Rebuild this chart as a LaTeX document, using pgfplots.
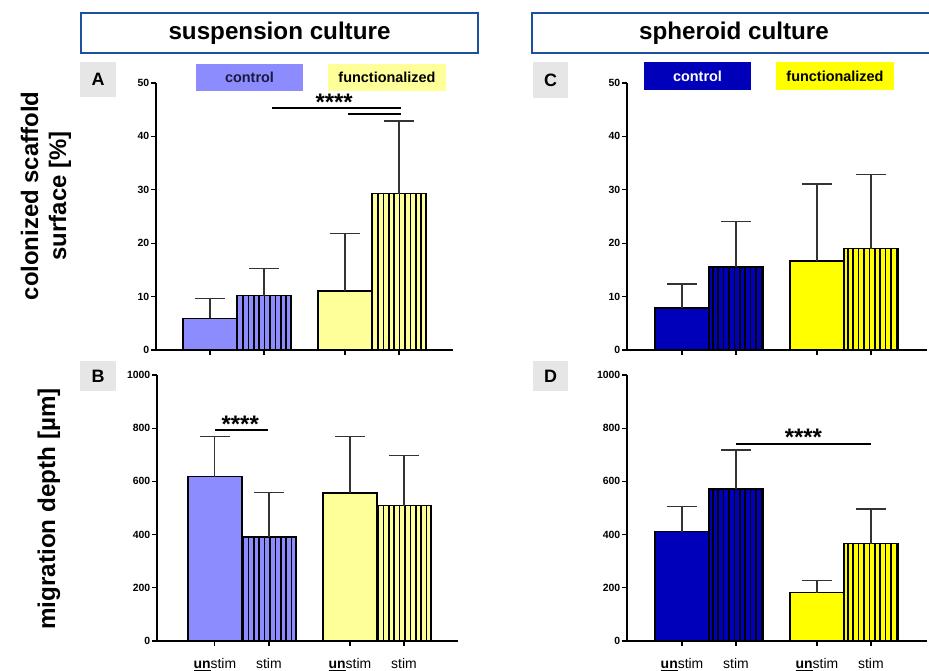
\documentclass[border=0pt]{standalone}
\usepackage{fontspec}
\setmainfont{Liberation Sans}
\usepackage{pgfplots}
\pgfplotsset{compat=1.18}
\usetikzlibrary{patterns.meta}

\definecolor{lblue}{HTML}{8C8CFF}
\definecolor{lyel}{HTML}{FFFF99}
\definecolor{dblue}{HTML}{0000BB}
\definecolor{dyel}{HTML}{FFFF00}
\definecolor{hdr}{HTML}{1E50A0}
\definecolor{lbox}{HTML}{E6E6E6}
\definecolor{navytxt}{HTML}{1A1A40}

\pgfplotsset{
  panel/.style={scale only axis, anchor=south west,
    axis x line*=bottom, axis y line*=left, ymin=0,
    xtick={0,1,2.5,3.5}, tick align=outside, major tick length=5bp,
    tick style={black, line width=1.3bp},
    axis line style={black, line width=1.5bp}, clip=false,
    /pgf/number format/assume math mode=true,
    /pgf/number format/1000 sep={},
    yticklabel style={font=\fontsize{10.5}{11}\selectfont\bfseries, inner sep=1.5bp},
    xticklabel style={font=\fontsize{14}{14}\selectfont, yshift=-9bp}},
  barU/.style={ybar, bar width=1, bar shift=0, fill=#1, draw=black, line width=1.6bp,
    error bars/.cd, y dir=plus, y explicit,
    error bar style={line width=1.3bp, draw=black!80},
    error mark=-, error mark options={rotate=90, line width=1.3bp, mark size=15bp, draw=black!80}},
  barS/.style={postaction={pattern color=black, pattern={Lines[angle=90,distance=5.4bp,line width=1.5bp]}}, barU=#1},
}
\newcommand{\stars}{\fontsize{24}{24}\selectfont\bfseries ****}
\newcommand{\un}{\underline{\textbf{un}}stim}

\begin{document}
\begin{tikzpicture}
\path[use as bounding box] (0,0) rectangle (929bp,671bp);
% headers
\draw[hdr, line width=2.7bp, fill=white] (81bp,618bp) rectangle (478bp,658bp);
\node[font=\fontsize{24.3}{24}\selectfont\bfseries] at (279.5bp,638bp) {suspension culture};
\draw[hdr, line width=2.7bp, fill=white] (532bp,618bp) rectangle (936bp,658bp);
\node[font=\fontsize{24.3}{24}\selectfont\bfseries] at (734bp,638bp) {spheroid culture};
% y labels
\node[rotate=90, align=center, font=\fontsize{24}{28}\selectfont\bfseries] at (46bp,475bp) {colonized scaffold\\surface [\%]};
\node[rotate=90, font=\fontsize{24.3}{28}\selectfont\bfseries] at (49bp,162bp) {migration depth [µm]};
% panel letters
\fill[lbox] (80bp,574bp) rectangle (116bp,609bp);
\node[font=\fontsize{18}{18}\selectfont\bfseries] at (98bp,591.5bp) {A};
\fill[lbox] (80bp,280bp) rectangle (116bp,310bp);
\node[font=\fontsize{18}{18}\selectfont\bfseries] at (98bp,295bp) {B};
\fill[lbox] (533bp,573bp) rectangle (568bp,609bp);
\node[font=\fontsize{18}{18}\selectfont\bfseries] at (550.5bp,591bp) {C};
\fill[lbox] (533bp,280bp) rectangle (568bp,310bp);
\node[font=\fontsize{18}{18}\selectfont\bfseries] at (550.5bp,295bp) {D};
% legend boxes
\fill[lblue] (196bp,580bp) rectangle (303bp,607bp);
\node[font=\fontsize{14.5}{14.5}\selectfont\bfseries, text=navytxt] at (249.5bp,593.5bp) {control};
\fill[lyel] (328bp,580bp) rectangle (446bp,607bp);
\node[font=\fontsize{14.5}{14.5}\selectfont\bfseries] at (387bp,593.5bp) {functionalized};
\fill[dblue] (644bp,581bp) rectangle (751bp,609bp);
\node[font=\fontsize{14.5}{14.5}\selectfont\bfseries, text=white] at (697.5bp,595bp) {control};
\fill[dyel] (776bp,581bp) rectangle (894bp,609bp);
\node[font=\fontsize{14.5}{14.5}\selectfont\bfseries] at (835bp,595bp) {functionalized};

% Panel A
\begin{axis}[panel, at={(156bp,321bp)}, width=297bp, height=267bp,
  xmin=-1, xmax=4.5, ymax=50, ytick={0,10,...,50}, xticklabel=\empty]
\addplot[barU=lblue] coordinates {(0,5.93) +- (0,3.75)};
\addplot[barS=lblue] coordinates {(1,10.2) +- (0,5.0)};
\addplot[barU=lyel] coordinates {(2.5,11.0) +- (0,10.85)};
\addplot[barS=lyel] coordinates {(3.5,29.3) +- (0,13.6)};
\draw[line width=1.8bp] (axis cs:1.15,45.3) -- (axis cs:3.54,45.3);
\draw[line width=1.8bp] (axis cs:2.56,44.2) -- (axis cs:3.54,44.2);
\node[anchor=base, yshift=-2bp] at (axis cs:2.3,45.3) {\stars};
\end{axis}

% Panel B
\begin{axis}[panel, at={(157bp,30bp)}, width=301bp, height=266bp,
  xmin=-1.07, xmax=4.5, ymax=1000, ytick={0,200,...,1000},
  xticklabels={\un,stim,\un,stim}]
\addplot[barU=lblue] coordinates {(0,617.7) +- (0,150.3)};
\addplot[barS=lblue] coordinates {(1,391) +- (0,166.5)};
\addplot[barU=lyel] coordinates {(2.5,557.5) +- (0,212)};
\addplot[barS=lyel] coordinates {(3.5,508.8) +- (0,189.2)};
\draw[line width=1.8bp] (axis cs:0,793) -- (axis cs:0.98,793);
\node[anchor=base, yshift=-2bp] at (axis cs:0.47,793) {\stars};
\end{axis}

% Panel C
\begin{axis}[panel, at={(627bp,321bp)}, width=300bp, height=267bp,
  xmin=-1.02, xmax=4.54, ymax=50, ytick={0,10,...,50}, xticklabel=\empty]
\addplot[barU=dblue] coordinates {(0,7.87) +- (0,4.49)};
\addplot[barS=dblue] coordinates {(1,15.5) +- (0,8.5)};
\addplot[barU=dyel] coordinates {(2.5,16.7) +- (0,14.4)};
\addplot[barS=dyel] coordinates {(3.5,19.0) +- (0,13.8)};
\end{axis}

% Panel D
\begin{axis}[panel, at={(627bp,30bp)}, width=300bp, height=266bp,
  xmin=-1.02, xmax=4.54, ymax=1000, ytick={0,200,...,1000},
  xticklabels={\un,stim,\un,stim}]
\addplot[barU=dblue] coordinates {(0,411) +- (0,94)};
\addplot[barS=dblue] coordinates {(1,571) +- (0,147)};
\addplot[barU=dyel] coordinates {(2.5,182) +- (0,45)};
\addplot[barS=dyel] coordinates {(3.5,366) +- (0,130)};
\draw[line width=1.8bp] (axis cs:1.0,742) -- (axis cs:3.5,742);
\node[anchor=base, yshift=-2bp] at (axis cs:2.25,742) {\stars};
\end{axis}
\end{tikzpicture}
\end{document}
